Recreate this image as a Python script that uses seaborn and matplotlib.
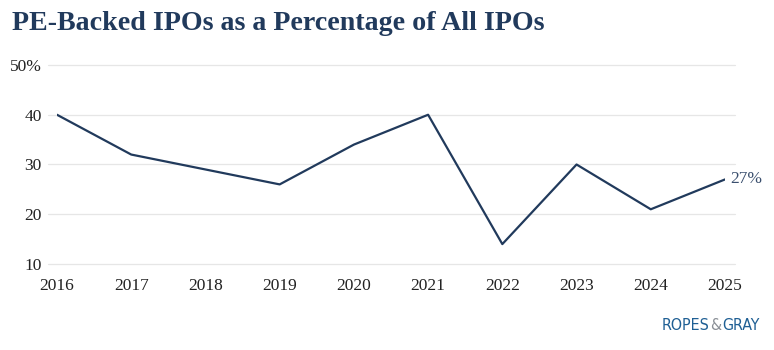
import matplotlib
matplotlib.use("Agg")
import matplotlib.pyplot as plt
import seaborn as sns
import pandas as pd

years = [2016, 2017, 2018, 2019, 2020, 2021, 2022, 2023, 2024, 2025]
pct = [40, 32, 29, 26, 34, 40, 14, 30, 21, 27]
yticks = [10, 20, 30, 40, 50]
ytick_labels = ["10", "20", "30", "40", "50%"]
title = "PE-Backed IPOs as a Percentage of All IPOs"

df = pd.DataFrame({"year": years, "pct": pct})

sns.set_theme(style="white")
plt.rcParams["font.family"] = ["Liberation Serif", "DejaVu Serif"]

navy = "#213a5c"
W, H = 774, 350
fig = plt.figure(figsize=(W/100, H/100), dpi=100)
ax = fig.add_axes([57/W, 1 - 264/H, (725-57)/W, (264-65)/H])

sns.lineplot(data=df, x="year", y="pct", ax=ax, color=navy, linewidth=1.6)

ax.set_ylim(10, 50)
ax.set_xlim(2016, 2025)
ax.set_yticks(yticks)
ax.set_yticklabels(ytick_labels)
ax.set_xticks(years)
ax.set_xticklabels([str(y) for y in years])
ax.tick_params(axis="both", length=0, labelsize=12.5, labelcolor="#222222")
ax.tick_params(axis="y", pad=11)
ax.tick_params(axis="x", pad=10)
for s in ax.spines.values():
    s.set_visible(False)
ax.set_xlabel("")
ax.set_ylabel("")
ax.set_facecolor("none")

for yv in yticks:
    ax.plot([2016 - 9/74.2, 2025 + 10/74.2], [yv, yv], color="#e6e6e6", lw=0.9,
            zorder=0, clip_on=False)

ax.annotate(f"{pct[-1]}%", xy=(years[-1], pct[-1]), xytext=(4, 0),
            textcoords="offset points", va="center", ha="left",
            color="#3a4f6e", fontsize=12.5)

fig.text(12/W, 1 - 24/H, title, fontsize=20.2, fontweight="bold",
         color=navy, va="center", ha="left")

# logo, laid out left to right and fitted to the reference width
fam = ["DejaVu Sans", "Liberation Sans"]
parts = [("ROPES", "#1f5f94"), ("&", "#8a8f96"), ("GRAY", "#1f5f94")]
target_left, target_right, ly = 662, 760, 1 - 326/H
renderer = fig.canvas.get_renderer()

def layout(fs):
    texts = []
    x = target_left
    for s, c in parts:
        t = fig.text(x/W, ly, s, color=c, fontsize=fs, family=fam,
                     fontstretch="condensed", va="center", ha="left")
        bb = t.get_window_extent(renderer)
        x = bb.x1 + 0.5
        texts.append(t)
    return texts, x

fs = 15
texts, xend = layout(fs)
for t in texts:
    t.remove()
fs = fs * (target_right - target_left) / (xend - target_left)
texts, xend = layout(fs)

fig.savefig("out.png", dpi=100)
